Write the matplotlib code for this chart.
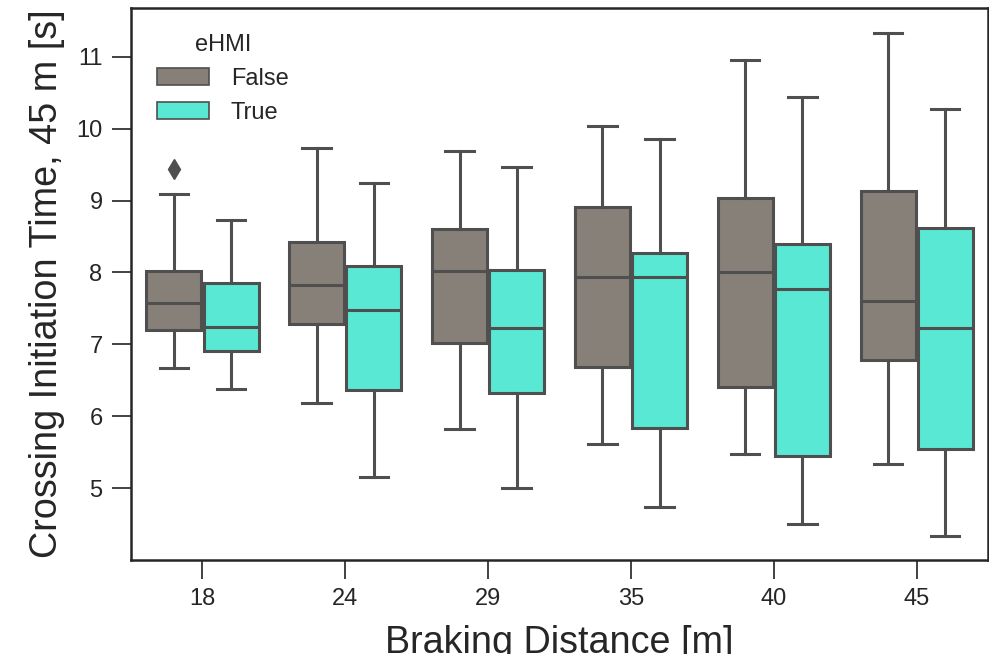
import numpy as np
import matplotlib.pyplot as plt

plt.rcParams['font.family'] = ['Liberation Sans', 'DejaVu Sans']

distances = ["18", "24", "29", "35", "40", "45"]
hue_levels = ["False", "True"]

# five number summaries: whislo, q1, med, q3, whishi
false_lo = [6.67, 6.19, 5.82, 5.61, 5.48, 5.33]
false_q1 = [7.20, 7.29, 7.02, 6.69, 6.41, 6.78]
false_med = [7.57, 7.82, 8.02, 7.94, 8.00, 7.61]
false_q3 = [8.02, 8.42, 8.60, 8.91, 9.04, 9.14]
false_hi = [9.09, 9.73, 9.69, 10.04, 10.95, 11.33]

true_lo = [6.38, 5.16, 5.00, 4.74, 4.50, 4.34]
true_q1 = [6.91, 6.36, 6.32, 5.84, 5.45, 5.55]
true_med = [7.24, 7.48, 7.23, 7.94, 7.77, 7.23]
true_q3 = [7.85, 8.09, 8.03, 8.27, 8.40, 8.62]
true_hi = [8.73, 9.25, 9.47, 9.86, 10.44, 10.28]

# outliers per distance (only one visible, at 18 m / False)
false_fliers = [[9.44], [], [], [], [], []]
true_fliers = [[], [], [], [], [], []]

colors = {"False": "#878079", "True": "#59e8d3"}
line_col = "#4f4f4f"
text_col = "#262626"


def make_stats(lo, q1, med, q3, hi, fliers):
    stats = []
    for i in range(len(lo)):
        stats.append(dict(whislo=lo[i], q1=q1[i], med=med[i], q3=q3[i],
                          whishi=hi[i], fliers=fliers[i]))
    return stats


groups = {
    "False": make_stats(false_lo, false_q1, false_med, false_q3, false_hi, false_fliers),
    "True": make_stats(true_lo, true_q1, true_med, true_q3, true_hi, true_fliers),
}

fig = plt.figure(figsize=(9.89, 6.54), dpi=100)
ax = fig.add_axes([0.1325, 0.1437, 0.8665, 0.8441])

x = np.arange(len(distances))
offsets = {"False": -0.2, "True": 0.2}
lw = 2.2
for level in hue_levels:
    ax.bxp(groups[level], positions=x + offsets[level], widths=0.385,
           capwidths=0.2, patch_artist=True, manage_ticks=False,
           boxprops=dict(facecolor=colors[level], edgecolor=line_col, linewidth=lw),
           medianprops=dict(color=line_col, linewidth=lw),
           whiskerprops=dict(color=line_col, linewidth=lw),
           capprops=dict(color=line_col, linewidth=lw),
           flierprops=dict(marker="d", markersize=10, markerfacecolor=line_col,
                           markeredgecolor=line_col))

ax.set_xlim(-0.5, len(distances) - 0.5)
ax.set_ylim(4.0, 11.68)
ax.set_xticks(x)
ax.set_xticklabels(distances)
ax.set_yticks([5, 6, 7, 8, 9, 10, 11])
ax.tick_params(axis="both", labelsize=17, length=13.5, width=1.3, color="#333333",
               labelcolor=text_col, pad=7)

for s in ax.spines.values():
    s.set_linewidth(1.8)
    s.set_color(text_col)

ax.set_xlabel("Braking Distance [m]", fontsize=27.2, color=text_col, labelpad=10.5)
ax.set_ylabel("Crossing Initiation Time, 45 m [s]", fontsize=27.2, color=text_col, labelpad=8)

handles = [plt.Rectangle((0, 0), 1, 1, facecolor=colors[l], edgecolor=line_col, linewidth=1.2)
           for l in hue_levels]
leg = ax.legend(handles, hue_levels, title="eHMI", loc="upper left", frameon=False,
                fontsize=17, title_fontsize=17, handlelength=2.2, handleheight=0.76,
                handletextpad=0.93, labelspacing=0.5, borderaxespad=0.7)
for t in leg.get_texts():
    t.set_color(text_col)
leg.get_title().set_color(text_col)

fig.savefig("out.png", dpi=100)
